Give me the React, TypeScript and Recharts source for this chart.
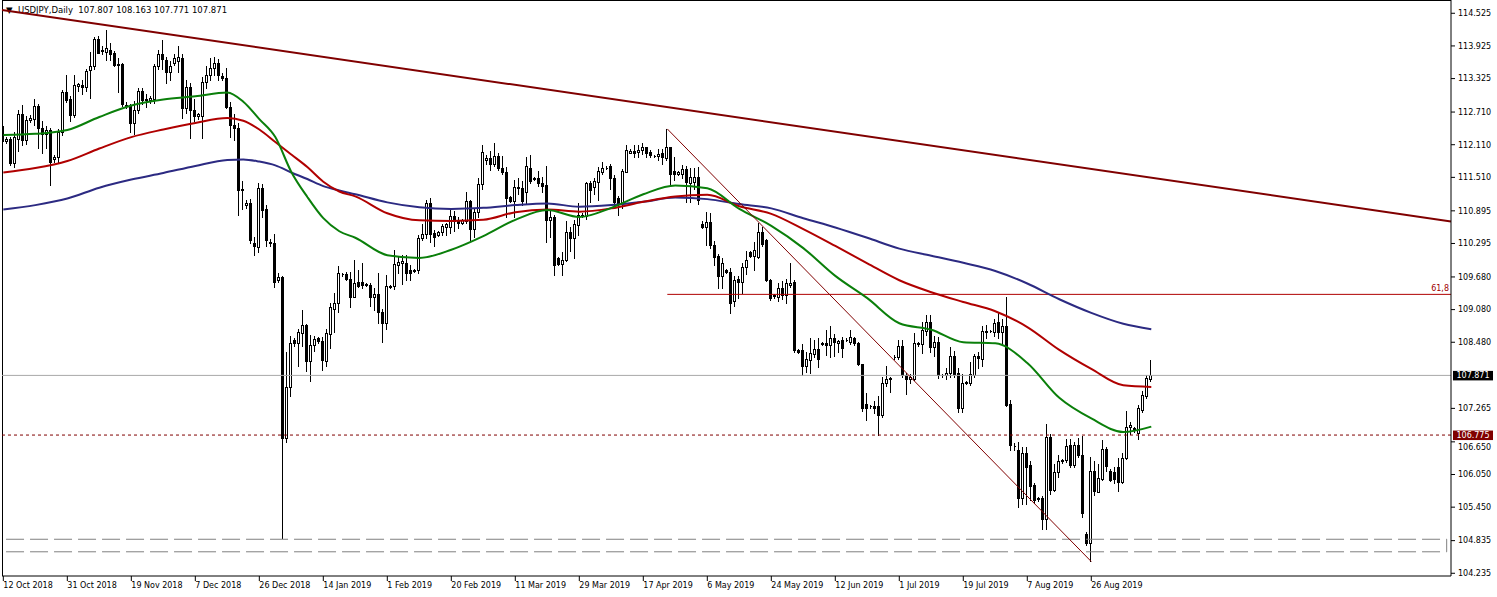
import React from 'react'
import {
  ComposedChart,
  Bar,
  Line,
  XAxis,
  YAxis,
  ReferenceLine,
} from 'recharts'

type Ohlc = [number, number, number, number]

// daily bars [open, high, low, close], broker feed with the short Sunday bars
// 12 Oct 2018 .. 23 Dec 2018
const candlesQ4: Ohlc[] = [
  [112.45, 112.53, 111.88, 112.18], [112.18, 112.26, 112.14, 112.21], [112.21, 112.25, 111.74, 111.77],
  [111.77, 112.35, 111.70, 112.25], [112.22, 112.75, 112.00, 112.68], [112.68, 112.84, 112.10, 112.20],
  [112.20, 112.64, 112.12, 112.56], [112.56, 112.66, 112.52, 112.60], [112.58, 112.95, 112.48, 112.82],
  [112.82, 112.86, 112.05, 112.42], [112.42, 112.55, 111.95, 112.30], [112.30, 112.45, 112.05, 112.38],
  [112.38, 112.42, 111.37, 111.80], [111.85, 111.92, 111.80, 111.88], [111.88, 112.40, 111.80, 112.35],
  [112.35, 113.12, 112.28, 113.08], [113.08, 113.39, 112.90, 112.93], [112.95, 113.00, 112.55, 112.65],
  [112.65, 113.39, 112.62, 113.20], [113.18, 113.25, 113.10, 113.22], [113.20, 113.30, 113.05, 113.17],
  [113.17, 113.50, 113.10, 113.46], [113.48, 113.82, 112.97, 113.55], [113.55, 114.08, 113.50, 114.05],
  [114.05, 114.10, 113.80, 113.80], [113.83, 113.92, 113.78, 113.85], [113.82, 114.22, 113.67, 113.88],
  [113.85, 113.97, 113.66, 113.78], [113.80, 113.84, 113.55, 113.58], [113.58, 113.70, 113.08, 113.60],
  [113.60, 113.62, 112.82, 112.85], [112.84, 112.90, 112.78, 112.82], [112.82, 112.86, 112.35, 112.50],
  [112.50, 112.92, 112.30, 112.75], [112.75, 113.15, 112.70, 113.10], [113.10, 113.15, 112.85, 112.93],
  [112.93, 113.05, 112.80, 112.95], [112.94, 113.00, 112.88, 112.96], [112.95, 113.60, 112.88, 113.56],
  [113.56, 113.85, 113.50, 113.78], [113.78, 114.03, 113.50, 113.68], [113.66, 113.72, 113.25, 113.45],
  [113.45, 113.65, 113.30, 113.55], [113.62, 113.78, 113.58, 113.70], [113.65, 113.92, 113.45, 113.72],
  [113.70, 113.78, 112.60, 112.78], [112.78, 113.30, 112.70, 113.17], [113.17, 113.25, 112.23, 112.75],
  [112.74, 112.95, 112.55, 112.63], [112.64, 112.70, 112.58, 112.67], [112.64, 113.35, 112.23, 113.27],
  [113.27, 113.55, 113.15, 113.39], [113.39, 113.70, 113.30, 113.52], [113.52, 113.73, 113.40, 113.62],
  [113.62, 113.68, 113.30, 113.40], [113.38, 113.42, 113.30, 113.34], [113.33, 113.52, 112.78, 112.81],
  [112.81, 112.90, 112.25, 112.47], [112.47, 112.68, 112.20, 112.41], [112.41, 112.50, 110.82, 111.28],
  [111.28, 111.45, 110.92, 111.30], [111.00, 111.10, 110.95, 111.04],
]

// 24 Dec 2018 .. 31 Mar 2019
const candlesQ1: Ohlc[] = [
  [111.04, 111.12, 110.30, 110.36], [110.30, 110.42, 110.08, 110.25], [110.23, 111.41, 110.14, 111.31],
  [111.31, 111.38, 110.78, 110.91], [110.93, 111.00, 110.25, 110.36], [110.32, 110.38, 110.25, 110.30],
  [110.30, 110.47, 109.50, 109.59], [109.62, 109.75, 109.58, 109.68], [109.68, 109.70, 104.88, 106.72],
  [106.72, 108.31, 106.65, 107.66], [107.66, 108.60, 107.50, 108.46], [108.52, 108.56, 108.42, 108.46],
  [108.46, 108.72, 108.05, 108.67], [108.65, 109.08, 108.41, 108.80], [108.80, 108.82, 107.96, 108.14],
  [108.14, 108.61, 107.76, 108.43], [108.43, 108.60, 108.32, 108.54], [108.56, 108.58, 108.47, 108.50],
  [108.51, 108.58, 107.97, 108.15], [108.14, 108.72, 108.05, 108.65], [108.64, 109.21, 108.37, 109.13],
  [109.10, 109.38, 108.67, 109.20], [109.20, 109.88, 109.04, 109.75], [109.73, 109.76, 109.70, 109.74],
  [109.73, 109.78, 109.62, 109.64], [109.64, 109.78, 109.13, 109.32], [109.32, 110.00, 109.32, 109.56],
  [109.59, 109.81, 109.50, 109.51], [109.58, 109.94, 109.48, 109.53], [109.55, 109.57, 109.52, 109.54],
  [109.53, 109.56, 109.15, 109.32], [109.31, 109.47, 109.08, 109.37], [109.37, 109.75, 108.83, 109.04],
  [109.04, 109.10, 108.49, 108.83], [108.83, 109.72, 108.72, 109.51], [109.50, 109.53, 109.48, 109.51],
  [109.51, 110.17, 109.45, 109.91], [109.90, 110.05, 109.76, 109.96], [109.94, 110.08, 109.55, 109.98],
  [109.93, 110.08, 109.62, 109.76], [109.80, 109.90, 109.62, 109.76], [109.79, 109.83, 109.77, 109.81],
  [109.80, 110.45, 109.76, 110.39], [110.39, 110.65, 110.36, 110.47], [110.47, 111.09, 110.40, 111.04],
  [111.04, 111.13, 110.33, 110.47], [110.48, 110.54, 110.24, 110.41], [110.46, 110.53, 110.44, 110.50],
  [110.50, 110.66, 110.45, 110.62], [110.60, 110.68, 110.45, 110.65], [110.60, 110.94, 110.48, 110.80],
  [110.80, 110.90, 110.52, 110.70], [110.70, 110.79, 110.58, 110.68], [110.68, 110.75, 110.66, 110.72],
  [110.71, 111.25, 110.68, 111.08], [111.08, 111.10, 110.35, 110.56], [110.56, 110.95, 110.42, 110.88],
  [110.88, 111.49, 110.78, 111.39], [111.39, 112.11, 111.30, 111.98], [111.83, 111.92, 111.75, 111.86],
  [111.86, 112.00, 111.65, 111.75], [111.75, 112.14, 111.72, 111.90], [111.90, 111.95, 111.65, 111.69],
  [111.69, 111.90, 111.58, 111.60], [111.61, 111.70, 110.79, 111.13], [111.14, 111.16, 111.06, 111.08],
  [111.08, 111.46, 110.79, 111.34], [111.33, 111.50, 111.20, 111.31], [111.31, 111.45, 111.00, 111.08],
  [111.25, 111.89, 111.03, 111.71], [111.69, 111.93, 111.40, 111.45], [111.48, 111.52, 111.46, 111.50],
  [111.49, 111.62, 111.35, 111.40], [111.40, 111.52, 111.25, 111.35], [111.37, 111.71, 110.33, 110.73],
  [110.73, 110.91, 110.42, 110.79], [110.79, 110.81, 109.72, 109.90], [110.02, 110.04, 109.90, 109.92],
  [109.92, 110.14, 109.72, 110.00], [110.00, 110.70, 109.98, 110.51], [110.51, 110.60, 110.15, 110.40],
  [110.40, 110.72, 110.02, 110.65], [110.63, 111.03, 110.45, 110.82], [110.82, 110.86, 110.78, 110.80],
]

// 1 Apr 2019 .. 7 Jul 2019
const candlesQ2: Ohlc[] = [
  [110.80, 111.43, 110.75, 111.41], [111.41, 111.45, 111.05, 111.28], [111.34, 111.50, 111.20, 111.45],
  [111.43, 111.70, 111.10, 111.63], [111.61, 111.79, 111.58, 111.68], [111.68, 111.72, 111.66, 111.69],
  [111.71, 111.75, 111.30, 111.49], [111.49, 111.55, 110.95, 111.06], [111.13, 111.16, 110.82, 111.03],
  [111.03, 111.66, 110.95, 111.63], [111.61, 112.10, 111.60, 112.01], [111.96, 112.03, 111.95, 112.00],
  [112.00, 112.10, 111.88, 111.96], [111.97, 112.10, 111.88, 112.01], [112.02, 112.14, 111.94, 112.06],
  [112.06, 112.06, 111.88, 111.96], [111.98, 112.01, 111.88, 111.92], [111.91, 111.93, 111.89, 111.90],
  [111.90, 112.04, 111.82, 111.94], [111.96, 112.03, 111.75, 111.88], [111.87, 112.40, 111.82, 112.06],
  [112.07, 112.07, 111.37, 111.58], [111.63, 111.89, 111.46, 111.58], [111.58, 111.62, 111.55, 111.60],
  [111.58, 111.73, 111.50, 111.66], [111.66, 111.71, 111.05, 111.43], [111.40, 111.68, 111.05, 111.51],
  [111.42, 111.68, 111.30, 111.52], [111.51, 111.70, 111.02, 111.09], [110.65, 110.70, 110.58, 110.60],
  [110.60, 110.88, 110.27, 110.69], [110.69, 110.85, 110.22, 110.27], [110.27, 110.34, 109.90, 110.05],
  [110.07, 110.10, 109.47, 109.70], [109.70, 110.02, 109.47, 109.93], [109.80, 109.83, 109.75, 109.78],
  [109.78, 109.85, 109.02, 109.20], [109.23, 109.70, 109.15, 109.62], [109.65, 109.70, 109.30, 109.58],
  [109.58, 109.93, 109.38, 109.87], [109.86, 110.15, 109.73, 110.00], [110.13, 110.16, 110.05, 110.06],
  [110.06, 110.33, 109.81, 110.18], [110.05, 110.67, 110.03, 110.51], [110.51, 110.60, 110.25, 110.29],
  [110.35, 110.38, 109.60, 109.62], [109.62, 109.65, 109.26, 109.29], [109.33, 109.36, 109.30, 109.34],
  [109.32, 109.56, 109.24, 109.47], [109.47, 109.60, 109.28, 109.35], [109.35, 109.65, 109.20, 109.56],
  [109.53, 109.93, 109.50, 109.57], [109.59, 109.62, 108.31, 108.34], [108.33, 108.36, 108.28, 108.31],
  [108.33, 108.45, 107.88, 108.04], [108.04, 108.30, 107.93, 108.17], [108.15, 108.55, 107.92, 108.28],
  [108.27, 108.52, 108.20, 108.35], [108.35, 108.55, 108.02, 108.17], [108.45, 108.49, 108.43, 108.47],
  [108.47, 108.71, 108.25, 108.43], [108.43, 108.77, 108.20, 108.55], [108.55, 108.63, 108.22, 108.49],
  [108.47, 108.53, 108.30, 108.51], [108.52, 108.58, 108.20, 108.37], [108.52, 108.55, 108.50, 108.53],
  [108.49, 108.70, 108.45, 108.57], [108.55, 108.58, 108.43, 108.47], [108.46, 108.48, 108.06, 108.08],
  [108.08, 108.08, 107.22, 107.28], [107.35, 107.55, 107.05, 107.28], [107.30, 107.33, 107.27, 107.31],
  [107.31, 107.40, 107.18, 107.28], [107.31, 107.50, 106.78, 107.14], [107.14, 107.84, 107.10, 107.74],
  [107.73, 108.05, 107.68, 107.80], [107.80, 107.85, 107.56, 107.83], [108.20, 108.24, 108.18, 108.21],
  [108.21, 108.53, 108.18, 108.41], [108.41, 108.53, 107.84, 107.88], [107.88, 107.92, 107.53, 107.80],
  [107.80, 107.90, 107.74, 107.84], [107.80, 108.65, 107.78, 108.47], [108.45, 108.48, 108.42, 108.46],
]

// 8 Jul 2019 .. 12 Sep 2019
const candlesQ3: Ohlc[] = [
  [108.45, 108.86, 108.28, 108.70], [108.69, 108.99, 108.62, 108.86], [108.86, 108.99, 108.30, 108.40],
  [108.40, 108.60, 108.23, 108.49], [108.49, 108.58, 107.82, 107.87], [107.88, 107.90, 107.85, 107.87],
  [107.87, 108.00, 107.80, 107.92], [107.92, 108.40, 107.85, 108.22], [108.23, 108.32, 107.85, 107.90],
  [107.91, 108.00, 107.20, 107.27], [107.27, 107.90, 107.20, 107.73], [107.74, 107.76, 107.72, 107.75],
  [107.74, 108.12, 107.70, 107.90], [107.88, 108.26, 107.85, 108.22], [108.22, 108.30, 108.00, 108.19],
  [108.17, 108.78, 108.05, 108.68], [108.67, 108.80, 108.55, 108.69], [108.68, 108.70, 108.66, 108.69],
  [108.67, 108.90, 108.60, 108.83], [108.85, 109.01, 108.55, 108.67], [108.67, 108.90, 108.45, 108.77],
  [108.77, 109.32, 107.30, 107.33], [107.35, 107.42, 106.50, 106.59], [106.58, 106.62, 106.50, 106.57],
  [106.50, 106.65, 105.46, 105.62], [105.62, 106.55, 105.50, 106.44], [106.44, 106.55, 105.50, 106.19],
  [106.22, 106.29, 105.58, 105.83], [105.86, 105.89, 105.52, 105.58], [105.60, 105.64, 105.56, 105.61],
  [105.61, 105.65, 105.04, 105.23], [105.23, 106.98, 105.05, 106.74], [106.74, 106.80, 105.70, 105.77],
  [105.77, 106.25, 105.75, 106.10], [106.10, 106.40, 106.00, 106.29], [106.29, 106.34, 106.27, 106.32],
  [106.32, 106.70, 106.28, 106.57], [106.59, 106.70, 106.18, 106.22], [106.22, 106.64, 106.18, 106.59],
  [106.59, 106.72, 106.38, 106.41], [106.41, 106.75, 105.26, 105.34], [104.96, 104.99, 104.76, 104.79],
  [104.79, 106.38, 104.46, 106.12], [106.12, 106.29, 105.68, 105.75], [105.73, 106.25, 105.72, 105.98],
  [105.96, 106.68, 105.95, 106.51], [106.51, 106.55, 106.12, 106.21], [106.12, 106.15, 105.93, 105.95],
  [106.10, 106.19, 105.90, 105.96], [106.19, 106.35, 105.75, 105.92], [105.92, 106.45, 105.90, 106.35],
  [106.35, 107.22, 106.33, 106.93], [106.93, 107.01, 106.80, 106.96], [106.88, 106.92, 106.84, 106.90],
  [106.82, 107.33, 106.70, 107.27], [107.23, 107.58, 107.20, 107.51], [107.49, 107.88, 107.46, 107.83],
  [107.807, 108.163, 107.771, 107.871],
]

// moving averages read at these bars
const maBars = [
  0, 8, 16, 24, 32, 40, 48, 56, 60, 64, 68, 72, 76, 80, 84, 88, 96, 104, 112, 120, 128,
  136, 144, 152, 160, 168, 176, 184, 192, 200, 208, 216, 224, 232, 240, 248, 256, 264, 272, 280, 287,
]
const maGreen = [
  112.29, 112.31, 112.38, 112.62, 112.83, 112.94, 113.0, 113.07, 112.9, 112.58, 112.25, 111.61, 111.15, 110.76,
  110.52, 110.4, 110.08, 110.03, 110.18, 110.43, 110.73, 110.91, 110.78, 110.95, 111.2, 111.36, 111.31, 110.93,
  110.62, 110.21, 109.7, 109.29, 108.83, 108.71, 108.48, 108.46, 108.1, 107.46, 107.08, 106.83, 106.93,
]
const maRed = [
  111.6, 111.68, 111.81, 112.04, 112.25, 112.39, 112.51, 112.6, 112.55, 112.39, 112.16, 111.93, 111.7, 111.43,
  111.25, 111.16, 110.85, 110.72, 110.71, 110.73, 110.87, 110.92, 110.88, 110.94, 111.06, 111.16, 111.19, 110.98,
  110.84, 110.56, 110.25, 109.93, 109.62, 109.4, 109.22, 109.05, 108.76, 108.34, 107.99, 107.69, 107.66,
]
const maNavy = [
  110.92, 111.0, 111.12, 111.32, 111.47, 111.59, 111.72, 111.83, 111.84, 111.8, 111.73, 111.6, 111.48, 111.35,
  111.27, 111.2, 111.05, 110.96, 110.93, 110.95, 111.0, 111.03, 110.97, 111.0, 111.06, 111.14, 111.11, 111.02,
  110.94, 110.76, 110.59, 110.4, 110.2, 110.07, 109.94, 109.79, 109.56, 109.27, 109.02, 108.82, 108.72,
]

const dateTicks = [0, 16, 32, 48, 64, 80, 96, 112, 128, 144, 160, 176, 192, 208, 224, 240, 256, 272]
const dateLabels = [
  '12 Oct 2018', '31 Oct 2018', '19 Nov 2018', '7 Dec 2018', '26 Dec 2018', '14 Jan 2019',
  '1 Feb 2019', '20 Feb 2019', '11 Mar 2019', '29 Mar 2019', '17 Apr 2019', '6 May 2019',
  '24 May 2019', '12 Jun 2019', '1 Jul 2019', '19 Jul 2019', '7 Aug 2019', '26 Aug 2019',
]
const priceTicks = [
  114.525, 113.925, 113.325, 112.71, 112.11, 111.51, 110.895, 110.295, 109.68,
  109.08, 108.48, 107.265, 106.65, 106.05, 105.45, 104.835, 104.235,
]

// drawn objects
const lastPrice = 107.871
const levelPrice = 106.775
const fibPrice = 109.36
const mainTrend = [{ x: -0.33, y: 114.585 }, { x: 361.93, y: 110.7 }]
const downTrend = [{ x: 166, y: 112.4 }, { x: 272, y: 104.45 }]
const fibLine = [{ x: 166, y: fibPrice }, { x: 361.93, y: fibPrice }]
const boxLow = 104.63
const boxHigh = 104.86
const boxFrom = 0.68
const boxTo = 360.85

const FONT = 'DejaVu Sans'

const candles = [...candlesQ4, ...candlesQ1, ...candlesQ2, ...candlesQ3]
const rows = candles.map(([o, h, l, c], i) => {
  const k = maBars.indexOf(i)
  return {
    i, o, h, l, c,
    range: [l, h],
    g: k >= 0 ? maGreen[k] : null,
    r: k >= 0 ? maRed[k] : null,
    b: k >= 0 ? maNavy[k] : null,
  }
})

const Candle = (props: any) => {
  const { x, y, width, height, payload } = props
  const { o, h, l, c } = payload
  const top = Math.min(y, y + height)
  const span = Math.abs(height)
  const ppu = span / (h - l)
  const col = Math.floor(x + width / 2)
  const bTop = Math.round(top + (h - Math.max(o, c)) * ppu) + 0.5
  const bBot = Math.round(top + (h - Math.min(o, c)) * ppu) + 0.5
  const bull = c >= o
  return (
    <g shapeRendering="crispEdges">
      <line x1={col + 0.5} x2={col + 0.5} y1={Math.round(top)} y2={Math.round(top + span) + 1} stroke="#000" />
      <path
        d={`M${col - 0.5} ${bTop}H${col + 1.5}V${bBot}H${col - 0.5}Z`}
        fill={bull ? '#fff' : '#000'}
        stroke="#000"
      />
    </g>
  )
}

const DateTick = (props: any) => {
  const { x, y, payload } = props
  const label = dateLabels[dateTicks.indexOf(payload.value)]
  return (
    <text x={x} y={y} dy="0.71em" textAnchor="start" fontSize={8} fontFamily={FONT} fill="#000">
      {label}
    </text>
  )
}

// 106.650 sits under the level tag, nudge it just below the tag
const PriceTick = (props: any) => {
  const { x, y, payload } = props
  const shift = payload.value === 106.65 ? 5 : 0
  return (
    <text x={x} y={y + shift} dy="0.355em" textAnchor="start" fontSize={8} fontFamily={FONT} fill="#000">
      {payload.value.toFixed(3)}
    </text>
  )
}

const PriceTag = (props: any) => {
  const { viewBox, text, bg } = props
  if (!viewBox) return null
  const left = viewBox.x + viewBox.width + 2
  return (
    <g>
      <rect x={left} y={viewBox.y - 4.5} width={40} height={9.5} fill={bg} />
      <text x={left + 20} y={viewBox.y} dy="0.35em" textAnchor="middle" fill="#fff" fontSize={8} fontFamily={FONT}>
        {text}
      </text>
    </g>
  )
}

const FibLabel = (props: any) => {
  const { viewBox } = props
  if (!viewBox) return null
  return (
    <text x={viewBox.x + viewBox.width - 2} y={viewBox.y - 3} textAnchor="end" fill="#a00000" fontSize={8} fontFamily={FONT}>
      61,8
    </text>
  )
}

export default function App() {
  return (
    <div style={{ position: 'absolute', left: 0, top: 0, width: 1497, height: 597, background: '#fff' }}>
      <div
        style={{
          position: 'absolute', left: 6, top: 5, fontFamily: FONT, fontSize: 8.5,
          whiteSpace: 'pre', color: '#000', lineHeight: '10px',
        }}
      >
        {'▼  USDJPY,Daily  107.807 108.163 107.771 107.871'}
      </div>
      <div
        style={{
          position: 'absolute', left: 2, top: 0, width: 1449, height: 576, boxSizing: 'border-box',
          borderLeft: '1px solid #000', borderTop: '1px solid #000',
        }}
      />
      <div style={{ position: 'absolute', left: 0, top: 0 }}>
        <ComposedChart width={1497} height={597} data={rows} margin={{ top: 0, right: 0, bottom: 0, left: 2 }}>
          <XAxis
            dataKey="i"
            type="number"
            domain={[-0.33, 361.93]}
            allowDataOverflow
            ticks={dateTicks}
            interval={0}
            tick={<DateTick />}
            tickSize={5}
            tickMargin={1}
            height={21}
            stroke="#000"
          />
          <YAxis
            orientation="right"
            type="number"
            domain={[104.185, 114.769]}
            allowDataOverflow
            ticks={priceTicks}
            interval={0}
            tick={<PriceTick />}
            tickSize={4}
            tickMargin={3}
            width={46}
            stroke="#000"
          />
          <ReferenceLine
            segment={[{ x: boxFrom, y: boxHigh }, { x: boxTo, y: boxHigh }]}
            stroke="#808080"
            strokeDasharray="18 6"
          />
          <ReferenceLine
            segment={[{ x: boxFrom, y: boxLow }, { x: boxTo, y: boxLow }]}
            stroke="#808080"
            strokeDasharray="18 6"
          />
          <ReferenceLine segment={[{ x: boxTo, y: boxLow }, { x: boxTo, y: boxHigh }]} stroke="#808080" />
          <ReferenceLine y={lastPrice} stroke="#a8a8a8" label={<PriceTag text="107.871" bg="#000" />} />
          <ReferenceLine
            y={levelPrice}
            stroke="#800000"
            strokeDasharray="3 3"
            label={<PriceTag text="106.775" bg="#800000" />}
          />
          <ReferenceLine segment={fibLine} stroke="#b00000" label={<FibLabel />} />
          <Line dataKey="b" stroke="#2c2a82" strokeWidth={2} dot={false} connectNulls type="monotone" isAnimationActive={false} />
          <Line dataKey="r" stroke="#b00000" strokeWidth={2} dot={false} connectNulls type="monotone" isAnimationActive={false} />
          <Line dataKey="g" stroke="#0a7f0a" strokeWidth={2} dot={false} connectNulls type="monotone" isAnimationActive={false} />
          <ReferenceLine segment={downTrend} stroke="#800000" strokeWidth={1} />
          <Bar dataKey="range" barSize={3} shape={<Candle />} isAnimationActive={false} />
          <ReferenceLine segment={mainTrend} stroke="#800000" strokeWidth={2} />
        </ComposedChart>
      </div>
    </div>
  )
}
